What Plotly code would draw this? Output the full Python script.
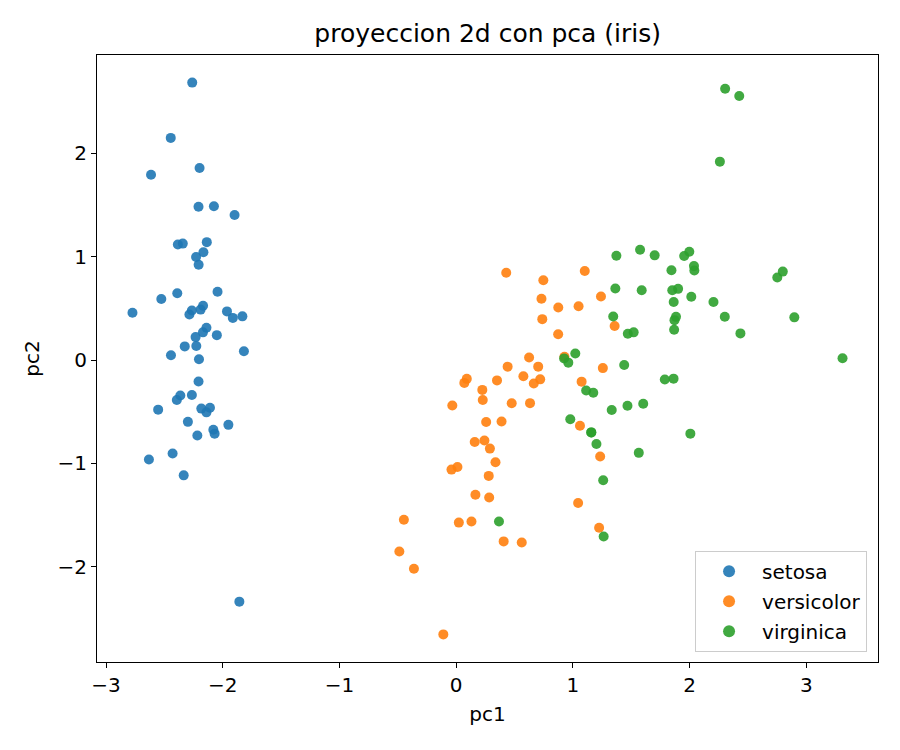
import plotly.graph_objects as go

# pca 2d del iris estandarizado
setosa_pc1 = [-2.265, -2.081, -2.364, -2.299, -2.390, -2.076, -2.444, -2.233, -2.335, -2.184,
              -2.166, -2.326, -2.218, -2.633, -2.199, -2.262, -2.208, -2.190, -1.899, -2.343,
              -1.914, -2.207, -2.774, -1.819, -2.227, -1.952, -2.051, -2.169, -2.140, -2.265,
              -2.140, -1.832, -2.615, -2.446, -2.110, -2.208, -2.045, -2.527, -2.430, -2.170,
              -2.286, -1.858, -2.554, -1.964, -2.137, -2.070, -2.385, -2.394, -2.229, -2.204]
setosa_pc2 = [0.480, -0.674, -0.342, -0.597, 0.647, 1.489, 0.048, 0.223, -1.115, -0.469,
              1.044, 0.133, -0.729, -0.962, 1.860, 2.686, 1.484, 0.489, 1.405, 1.128,
              0.409, 0.924, 0.458, 0.086, 0.137, -0.626, 0.242, 0.527, 0.313, -0.338,
              -0.505, 0.424, 1.794, 2.151, -0.460, -0.206, 0.662, 0.592, -0.904, 0.269,
              0.442, -2.337, -0.479, 0.472, 1.142, -0.711, 1.120, -0.386, 0.998, 0.009]

versicolor_pc1 = [1.102, 0.731, 1.241, 0.407, 1.075, 0.389, 0.747, -0.487, 0.928, 0.011,
                  -0.110, 0.441, 0.562, 0.720, -0.033, 0.875, 0.350, 0.159, 1.225, 0.165,
                  0.738, 0.476, 1.234, 0.633, 0.703, 0.874, 1.257, 1.358, 0.665, -0.040,
                  0.131, 0.023, 0.242, 1.061, 0.224, 0.429, 1.049, 1.045, 0.070, 0.283,
                  0.279, 0.625, 0.337, -0.362, 0.289, 0.091, 0.228, 0.576, -0.448, 0.257]
versicolor_pc2 = [0.863, 0.595, 0.616, -1.754, -0.208, -0.593, 0.773, -1.852, 0.032, -1.034,
                  -2.654, -0.063, -1.765, -0.186, -0.439, 0.509, -0.196, -0.792, -1.622, -1.303,
                  0.397, -0.417, -0.933, -0.416, -0.063, 0.251, -0.077, 0.331, -0.226, -1.059,
                  -1.562, -1.572, -0.777, -0.634, -0.288, 0.846, 0.522, -1.383, -0.220, -1.329,
                  -1.120, 0.025, -0.988, -2.019, -0.856, -0.181, -0.385, -0.155, -1.544, -0.599]

virginica_pc1 = [1.845, 1.158, 2.205, 1.440, 1.868, 2.752, 0.367, 2.302, 2.007, 2.260,
                 1.364, 1.603, 1.884, 1.260, 1.468, 1.590, 1.471, 2.426, 3.311, 1.264,
                 2.038, 0.978, 2.898, 1.333, 1.701, 1.954, 1.175, 1.021, 1.788, 1.864,
                 2.436, 2.305, 1.863, 1.114, 1.202, 2.799, 1.576, 1.346, 0.925, 1.852,
                 2.015, 1.902, 1.158, 2.041, 1.998, 1.871, 1.565, 1.521, 1.373, 0.961]
virginica_pc2 = [0.870, -0.699, 0.562, -0.047, 0.295, 0.800, -1.562, 0.420, -0.711, 1.921,
                 0.693, -0.422, 0.419, -1.162, -0.442, 0.676, 0.256, 2.557, 0.018, -1.707,
                 0.910, -0.572, 0.414, -0.482, 1.014, 1.008, -0.316, 0.064, -0.187, 0.562,
                 0.259, 2.626, -0.179, -0.293, -0.811, 0.857, 1.069, 0.422, 0.017, 0.676,
                 0.614, 0.690, -0.699, 0.868, 1.049, 0.387, -0.897, 0.269, 1.011, -0.024]

especies = ["setosa", "versicolor", "virginica"]
colores = ["#1f77b4", "#ff7f0e", "#2ca02c"]
xs = [setosa_pc1, versicolor_pc1, virginica_pc1]
ys = [setosa_pc2, versicolor_pc2, virginica_pc2]

fig = go.Figure()
for nombre, color, x, y in zip(especies, colores, xs, ys):
    fig.add_trace(go.Scatter(
        x=x, y=y, mode="markers", name=nombre, legendgroup=nombre,
        marker=dict(color=color, size=10, opacity=0.9, line=dict(width=0)),
    ))

eje = dict(showgrid=False, zeroline=False, showline=True, linecolor="black", linewidth=1,
           mirror=True, ticks="outside", ticklen=5, tickcolor="black",
           tickfont=dict(size=20, color="black"), title_font=dict(size=20, color="black"))

# la pagina tiene 8px de margen en body, se compensa en los margenes
fig.update_layout(
    width=900, height=750,
    template=None,
    plot_bgcolor="white", paper_bgcolor="white",
    font=dict(family="DejaVu Sans", color="black"),
    title=dict(text="proyeccion 2d con pca (iris)", x=0.533, xanchor="center",
               y=0.967, yanchor="middle", font=dict(size=25)),
    margin=dict(l=89, r=30, t=47, b=96),
    xaxis=dict(eje, title=dict(text="pc1", standoff=10), range=[-3.078, 3.615],
               tickvals=[-3, -2, -1, 0, 1, 2, 3]),
    yaxis=dict(eje, title=dict(text="pc2", standoff=12), range=[-2.921, 2.953],
               tickvals=[-2, -1, 0, 1, 2]),
    legend=dict(x=0.986, y=0.017, xanchor="right", yanchor="bottom",
                bordercolor="#cccccc", borderwidth=1, bgcolor="rgba(255,255,255,0.8)",
                font=dict(size=20), itemsizing="constant", tracegroupgap=1,
                itemwidth=56),
)

fig.write_html("out.html")
